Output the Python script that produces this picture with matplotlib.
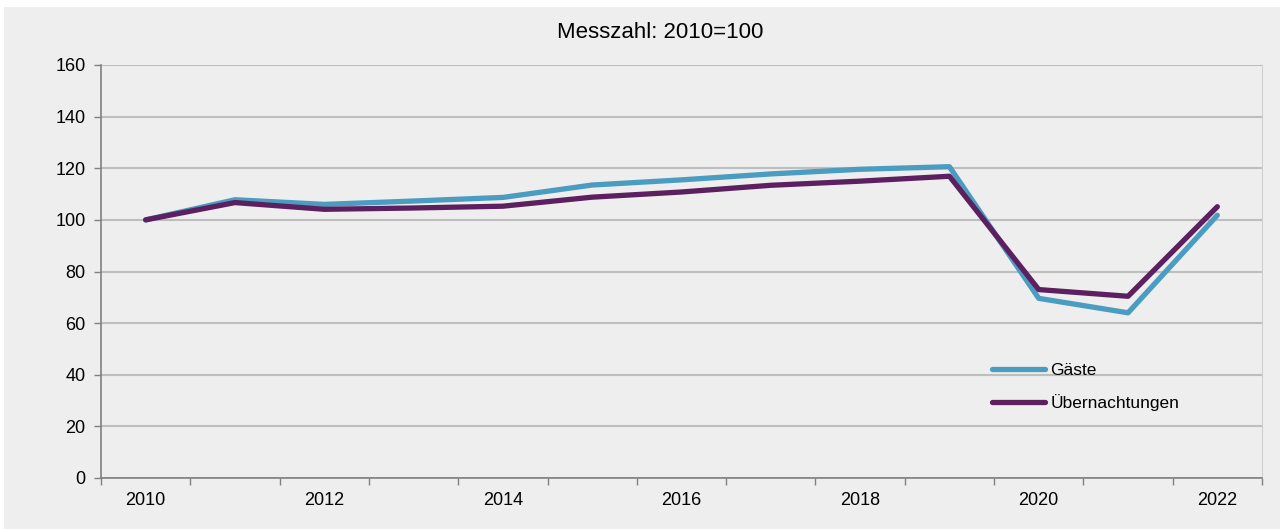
import numpy
from matplotlib import pyplot
from matplotlib.patches import Rectangle

pyplot.rcParams['font.family'] = ['Liberation Sans', 'DejaVu Sans']

years = [2010, 2011, 2012, 2013, 2014, 2015, 2016, 2017, 2018, 2019, 2020, 2021, 2022]
gaeste = [100, 107.8, 106.0, 107.3, 108.7, 113.5, 115.5, 117.8, 119.6, 120.6, 69.6, 64.0, 101.8]
uebernachtungen = [100, 106.7, 104.1, 104.6, 105.3, 108.8, 110.8, 113.4, 115.0, 116.9, 73.0, 70.4, 105.1]
tick_labels = ['2010', '', '2012', '', '2014', '', '2016', '', '2018', '', '2020', '', '2022']

bg = '#edeeed'
fig = pyplot.figure(figsize=(12.83, 5.29), dpi=100)
fig.patch.set_facecolor('white')
fig.patches.append(Rectangle((4 / 1283, 0.0), 1276 / 1283, 522 / 529,
                             transform=fig.transFigure, facecolor=bg,
                             edgecolor='none', zorder=-10))

ax = fig.add_axes([101 / 1283, 1 - 478 / 529, 1161 / 1283, 413 / 529])
ax.set_facecolor(bg)

x = numpy.arange(len(years))
ax.plot(x, gaeste, color='#4a9cc0', lw=3.8, solid_capstyle='round', label='Gäste')
ax.plot(x, uebernachtungen, color='#5c1f5f', lw=3.8, solid_capstyle='round',
        label='Übernachtungen')

ax.set_xlim(-0.5, len(years) - 0.5)
ax.set_ylim(0, 160)
ax.set_yticks(range(0, 161, 20))
ax.set_xticks(x)
ax.set_xticklabels(tick_labels)
ax.set_xticks(numpy.arange(-0.5, len(years), 1.0), minor=True)
ax.tick_params(axis='x', which='major', length=0, pad=10, labelsize=13)
ax.tick_params(axis='x', which='minor', length=5, color='#808080', width=1)
ax.tick_params(axis='y', length=5, color='#808080', width=1, pad=6, labelsize=13)

ax.grid(axis='y', color='#bebebe', lw=1.5)
ax.set_axisbelow(True)
for s in ['left', 'bottom']:
    ax.spines[s].set_color('#808080')
    ax.spines[s].set_linewidth(1.2)
ax.spines['right'].set_color('#d0d0d0')
ax.spines['top'].set_visible(False)

fig.text(660 / 1283, 1 - 33 / 529, 'Messzahl: 2010=100', ha='center', va='center', fontsize=16)

ax.legend(loc='upper left', bbox_to_anchor=(0.7675, 0.279), frameon=False, fontsize=12.5,
          handlelength=3.05, labelspacing=0.95, handletextpad=0.3,
          borderpad=0, borderaxespad=0)

fig.savefig('out.png', dpi=100, facecolor=fig.get_facecolor())
